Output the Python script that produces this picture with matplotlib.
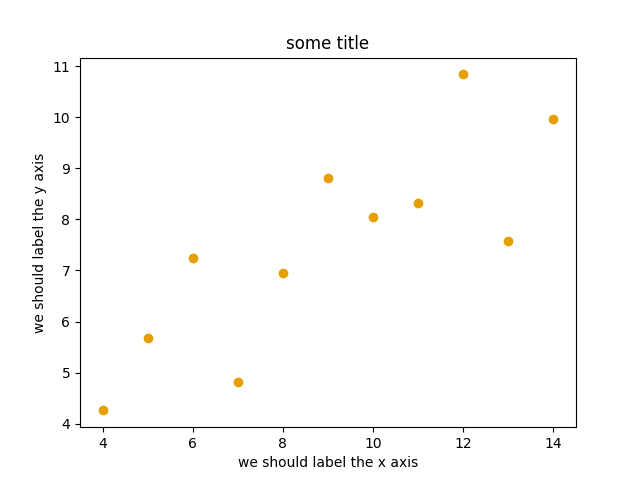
import matplotlib
matplotlib.use('Agg')
import matplotlib.pyplot as plt

x = [10, 8, 13, 9, 11, 14, 6, 4, 12, 7, 5]
y = [8.04, 6.95, 7.58, 8.81, 8.33, 9.96, 7.24, 4.26, 10.84, 4.82, 5.68]

fig, ax = plt.subplots(figsize=(6.4, 4.8), dpi=100)
ax.scatter(x, y, color='#E69F00')
ax.set_xlabel('we should label the x axis')
ax.set_ylabel('we should label the y axis')
ax.set_title('some title')

fig.savefig('out.png')
